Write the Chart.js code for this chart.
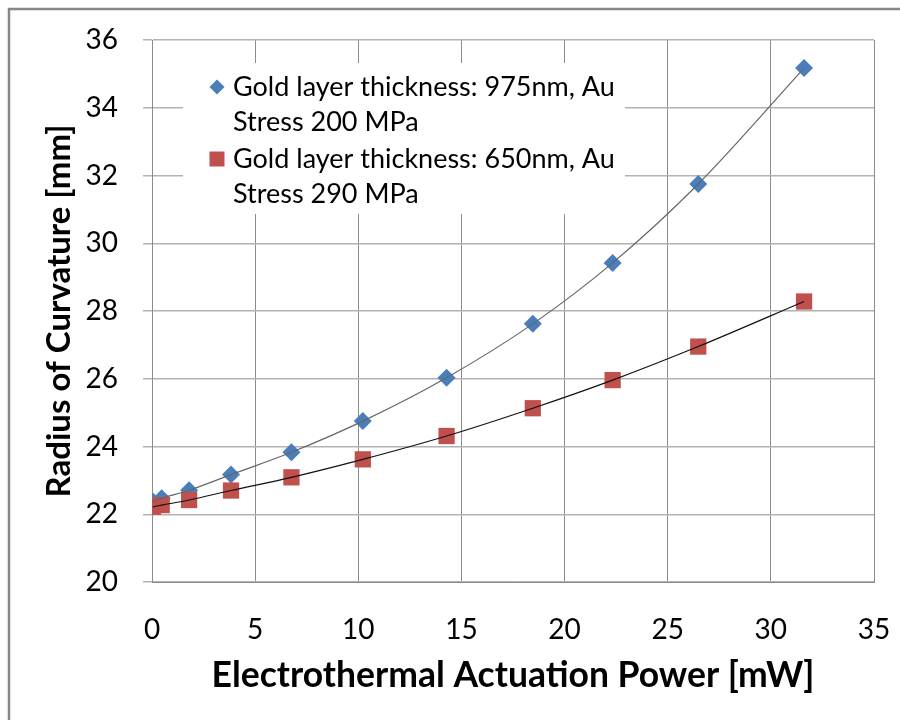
<!DOCTYPE html>
<html>
<head>
<meta charset="utf-8">
<script src="https://cdn.jsdelivr.net/npm/chart.js@4/dist/chart.umd.min.js"></script>
<style>
  html, body { margin: 0; padding: 0; background: #fff; overflow: hidden; }
  #chart { display: block; }
</style>
</head>
<body>
<canvas id="chart" width="900" height="720"></canvas>
<script>
// actuation power [mW] at each measurement step
const power = [0.04, 0.47, 1.8, 3.83, 6.76, 10.22, 14.28, 18.46, 22.33, 26.48, 31.61];
// radius of curvature [mm] for the two gold layers
const radius975 = [22.38, 22.47, 22.71, 23.17, 23.83, 24.75, 26.03, 27.62, 29.42, 31.75, 35.17];
const radius650 = [22.22, 22.27, 22.42, 22.70, 23.09, 23.62, 24.31, 25.13, 25.96, 26.95, 28.28];

const seriesNames = [
  ['Gold layer thickness: 975nm, Au', 'Stress 200 MPa'],
  ['Gold layer thickness: 650nm, Au', 'Stress 290 MPa']
];
const xTicks = [0, 5, 10, 15, 20, 25, 30, 35];
const yTicks = [20, 22, 24, 26, 28, 30, 32, 34, 36];

const BLUE = '#4a7ebb';
const RED = '#c0504d';
const FONT = 'Lato, "DejaVu Sans", sans-serif';

function toPoints(xs, ys) {
  return xs.map((x, i) => ({ x: x, y: ys[i] }));
}

// white page with the grey frame on the top and left
const frame = {
  id: 'frame',
  beforeDraw(chart) {
    const ctx = chart.ctx;
    ctx.save();
    ctx.fillStyle = '#fff';
    ctx.fillRect(0, 0, chart.width, chart.height);
    ctx.strokeStyle = '#878787';
    ctx.lineWidth = 2.5;
    ctx.beginPath();
    ctx.moveTo(9, chart.height);
    ctx.lineTo(9, 9);
    ctx.lineTo(chart.width, 9);
    ctx.stroke();
    ctx.restore();
  }
};

// legend box inside the plot, two-line entries
const boxLegend = {
  id: 'boxLegend',
  afterDatasetsDraw(chart) {
    const ctx = chart.ctx;
    ctx.save();
    ctx.fillStyle = '#fff';
    ctx.fillRect(183, 63, 442, 151);
    ctx.font = '27px ' + FONT;
    ctx.textBaseline = 'middle';
    const rows = [87, 159];
    // diamond
    ctx.fillStyle = BLUE;
    ctx.beginPath();
    ctx.moveTo(217, rows[0] - 7.5);
    ctx.lineTo(224.5, rows[0]);
    ctx.lineTo(217, rows[0] + 7.5);
    ctx.lineTo(209.5, rows[0]);
    ctx.closePath();
    ctx.fill();
    // square
    ctx.fillStyle = RED;
    ctx.fillRect(209.5, rows[1] - 7.5, 15, 15);
    ctx.fillStyle = '#000';
    seriesNames.forEach((lines, i) => {
      lines.forEach((t, j) => ctx.fillText(t, 233, rows[i] + j * 35));
    });
    ctx.restore();
  }
};

new Chart(document.getElementById('chart'), {
  type: 'scatter',
  data: {
    datasets: [
      {
        label: 'trend 975',
        data: toPoints(power, radius975),
        showLine: true,
        cubicInterpolationMode: 'monotone',
        borderColor: '#666',
        borderWidth: 1.2,
        pointRadius: 0,
        order: 0
      },
      {
        label: 'trend 650',
        data: toPoints(power, radius650),
        showLine: true,
        cubicInterpolationMode: 'monotone',
        borderColor: '#111',
        borderWidth: 1.2,
        pointRadius: 0,
        order: 0
      },
      {
        label: seriesNames[0].join(' '),
        data: toPoints(power, radius975),
        pointStyle: 'rectRot',
        pointRadius: 9,
        backgroundColor: BLUE,
        borderColor: BLUE,
        borderWidth: 0,
        order: 2
      },
      {
        label: seriesNames[1].join(' '),
        data: toPoints(power, radius650),
        pointStyle: 'rect',
        pointRadius: 11.5,
        backgroundColor: RED,
        borderColor: RED,
        borderWidth: 0,
        order: 1
      }
    ]
  },
  options: {
    responsive: false,
    devicePixelRatio: 1,
    animation: false,
    layout: { padding: { left: 0, top: 40, right: 26, bottom: 0 } },
    plugins: {
      legend: { display: false },
      tooltip: { enabled: false }
    },
    scales: {
      x: {
        type: 'linear',
        min: 0,
        max: 35,
        afterBuildTicks: s => { s.ticks = xTicks.map(v => ({ value: v })); },
        afterFit: s => { s.height = 138; s.paddingLeft = 0; s.paddingRight = 0; },
        grid: { color: '#8c8c8c', lineWidth: 1, drawTicks: false },
        border: { color: '#8c8c8c', width: 1 },
        ticks: { color: '#000', font: { family: FONT, size: 28 }, padding: 31 },
        title: {
          display: true,
          text: 'Electrothermal Actuation Power [mW]',
          color: '#000',
          font: { family: FONT, size: 35.5, weight: 'bold' },
          padding: { top: 0, bottom: 23 }
        }
      },
      y: {
        type: 'linear',
        min: 20,
        max: 36,
        afterBuildTicks: s => { s.ticks = yTicks.map(v => ({ value: v })); },
        afterFit: s => { s.width = 152; s.paddingTop = 0; s.paddingBottom = 0; },
        grid: { color: '#b2b2b2', lineWidth: 1.5, tickLength: 9 },
        border: { color: '#8c8c8c', width: 1 },
        ticks: { color: '#000', font: { family: FONT, size: 28 }, padding: 25 },
        title: {
          display: true,
          text: 'Radius of Curvature [mm]',
          color: '#000',
          font: { family: FONT, size: 33, weight: 'bold' },
          padding: { top: 40, bottom: 0 }
        }
      }
    }
  },
  plugins: [frame, boxLegend]
});
</script>
</body>
</html>
